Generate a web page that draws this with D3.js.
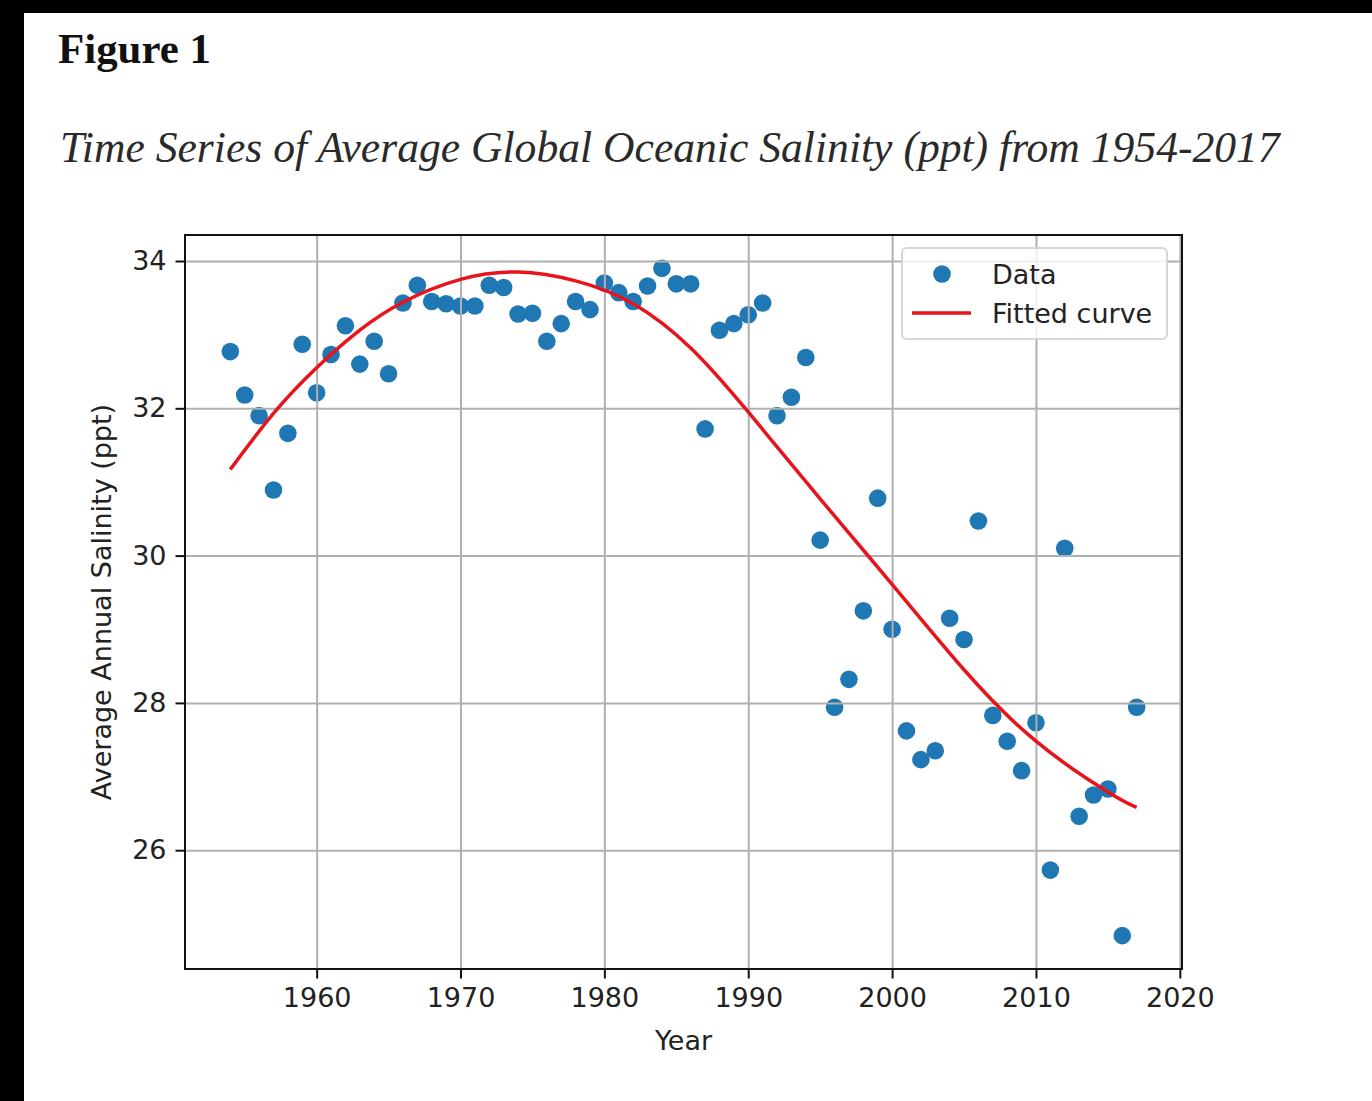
<html>
    <head>
        <title>Figure 1</title>
        <script src="https://cdnjs.cloudflare.com/ajax/libs/d3/7.8.5/d3.min.js"></script>
        <style>
            body { margin: 0; background: #000; }
        </style>
    </head>

    <body>
        <svg id="chart" width="1372" height="1101"></svg>

        <script>
            // yearly averages
            var years = [1954, 1955, 1956, 1957, 1958, 1959, 1960, 1961, 1962, 1963,
                         1964, 1965, 1966, 1967, 1968, 1969, 1970, 1971, 1972, 1973,
                         1974, 1975, 1976, 1977, 1978, 1979, 1980, 1981, 1982, 1983,
                         1984, 1985, 1986, 1987, 1988, 1989, 1990, 1991, 1992, 1993,
                         1994, 1995, 1996, 1997, 1998, 1999, 2000, 2001, 2002, 2003,
                         2004, 2005, 2006, 2007, 2008, 2009, 2010, 2011, 2012, 2013,
                         2014, 2015, 2016, 2017];

            var salinity = [32.77, 32.18, 31.90, 30.89, 31.66, 32.87, 32.21, 32.73, 33.12, 32.60,
                            32.91, 32.47, 33.43, 33.67, 33.45, 33.42, 33.39, 33.39, 33.67, 33.64,
                            33.28, 33.29, 32.91, 33.15, 33.45, 33.34, 33.70, 33.57, 33.45, 33.66,
                            33.90, 33.69, 33.69, 31.72, 33.06, 33.15, 33.27, 33.43, 31.90, 32.15,
                            32.69, 30.21, 27.94, 28.32, 29.25, 30.78, 29.00, 27.62, 27.23, 27.35,
                            29.15, 28.86, 30.47, 27.83, 27.48, 27.08, 27.73, 25.73, 30.10, 26.46,
                            26.75, 26.83, 24.84, 27.94];

            // fitted curve, sampled from the figure
            var fitYears = [1954, 1957, 1960, 1963, 1966, 1970, 1974, 1978, 1982,
                            1986, 1990, 1995, 2000, 2005, 2010, 2015, 2017];
            var fitValues = [31.17, 31.93, 32.55, 33.06, 33.44, 33.75, 33.85, 33.73, 33.42,
                             32.82, 31.95, 30.77, 29.61, 28.45, 27.48, 26.79, 26.58];

            var xTicks = [1960, 1970, 1980, 1990, 2000, 2010, 2020];
            var yTicks = [26, 28, 30, 32, 34];

            var legendLabels = ["Data", "Fitted curve"];

            var blue = "#1f77b4";
            var red = "#e8141c";
            var tickFont = "DejaVu Sans, sans-serif";

            var svg = d3.select("#chart");

            // white page, screenshot has black strip on top and left
            svg.append("rect")
               .attr("x", 24).attr("y", 13)
               .attr("width", 1348).attr("height", 1088)
               .attr("fill", "#fff");

            function fitText(sel, target) {
                var size = parseFloat(sel.attr("font-size"));
                var w = sel.node().getComputedTextLength();
                sel.attr("font-size", size * target / w);
            }

            var fig = svg.append("text")
               .attr("x", 58).attr("y", 63)
               .attr("font-family", "Liberation Serif, Times New Roman, serif")
               .attr("font-weight", "bold")
               .attr("font-size", 43)
               .attr("fill", "#111")
               .text("Figure 1");
            fitText(fig, 153);

            var sub = svg.append("text")
               .attr("x", 60).attr("y", 162)
               .attr("font-family", "Liberation Serif, Times New Roman, serif")
               .attr("font-style", "italic")
               .attr("font-size", 44)
               .attr("fill", "#2a2a2a")
               .text("Time Series of Average Global Oceanic Salinity (ppt) from 1954-2017");
            fitText(sub, 1220);

            var margin = {left: 185, top: 235};
            var width = 997, height = 734;

            var g = svg.append("g")
               .attr("transform", "translate(" + margin.left + "," + margin.top + ")");

            // matplotlib style 5% margins
            var xPad = 0.05 * (d3.max(years) - d3.min(years));
            var yPad = 0.05 * (d3.max(salinity) - d3.min(salinity));

            var xScale = d3.scaleLinear()
                           .domain([d3.min(years) - xPad, d3.max(years) + xPad])
                           .range([0, width]);
            var yScale = d3.scaleLinear()
                           .domain([d3.min(salinity) - yPad, d3.max(salinity) + yPad])
                           .range([height, 0]);

            var points = years.map((y, i) => ({year: y, value: salinity[i]}));
            var fit = fitYears.map((y, i) => ({year: y, value: fitValues[i]}));

            g.selectAll("circle.dot")
             .data(points)
             .enter()
             .append("circle")
             .attr("class", "dot")
             .attr("cx", d => xScale(d.year))
             .attr("cy", d => yScale(d.value))
             .attr("r", 8.8)
             .attr("fill", blue);

            // grid goes over the scatter, like matplotlib
            var xGrid = d3.axisBottom(xScale).tickValues(xTicks).tickSize(-height).tickFormat("");
            var yGrid = d3.axisLeft(yScale).tickValues(yTicks).tickSize(-width).tickFormat("");

            g.append("g").attr("transform", "translate(0," + height + ")").call(xGrid)
             .call(a => a.select(".domain").remove())
             .selectAll("line").attr("stroke", "#b0b0b0").attr("stroke-width", 2);
            g.append("g").call(yGrid)
             .call(a => a.select(".domain").remove())
             .selectAll("line").attr("stroke", "#b0b0b0").attr("stroke-width", 2);

            var line = d3.line()
                         .x(d => xScale(d.year))
                         .y(d => yScale(d.value))
                         .curve(d3.curveNatural);

            g.append("path")
             .datum(fit)
             .attr("d", line)
             .attr("fill", "none")
             .attr("stroke", red)
             .attr("stroke-width", 3.5);

            // axes
            var xAxis = d3.axisBottom(xScale)
                          .tickValues(xTicks)
                          .tickSize(9.5)
                          .tickPadding(9)
                          .tickFormat(d3.format("d"));
            var yAxis = d3.axisLeft(yScale)
                          .tickValues(yTicks)
                          .tickSize(9.5)
                          .tickPadding(9)
                          .tickFormat(d3.format("d"));

            var xa = g.append("g").attr("transform", "translate(0," + height + ")").call(xAxis);
            var ya = g.append("g").call(yAxis);

            [xa, ya].forEach(a => {
                a.select(".domain").remove();
                a.selectAll("line").attr("stroke", "#111").attr("stroke-width", 2);
                a.selectAll("text")
                 .attr("font-family", tickFont)
                 .attr("font-size", 27)
                 .attr("fill", "#222");
            });

            g.append("rect")
             .attr("width", width).attr("height", height)
             .attr("fill", "none")
             .attr("stroke", "#111")
             .attr("stroke-width", 2);

            svg.append("text")
               .attr("x", margin.left + width / 2).attr("y", 1050)
               .attr("text-anchor", "middle")
               .attr("font-family", tickFont)
               .attr("font-size", 27)
               .attr("fill", "#222")
               .text("Year");

            svg.append("text")
               .attr("transform", "translate(102," + (margin.top + height / 2) + ") rotate(-90)")
               .attr("text-anchor", "middle")
               .attr("dy", "0.35em")
               .attr("font-family", tickFont)
               .attr("font-size", 27)
               .attr("fill", "#222")
               .text("Average Annual Salinity (ppt)");

            // legend, upper right
            var leg = svg.append("g");
            leg.append("rect")
               .attr("x", 902).attr("y", 248)
               .attr("width", 265).attr("height", 91)
               .attr("rx", 5)
               .attr("fill", "#fff").attr("fill-opacity", 0.8)
               .attr("stroke", "#d6d6d6").attr("stroke-width", 2);

            leg.append("circle")
               .attr("cx", 942).attr("cy", 274)
               .attr("r", 8.8)
               .attr("fill", blue);

            leg.append("line")
               .attr("x1", 912).attr("x2", 971)
               .attr("y1", 313).attr("y2", 313)
               .attr("stroke", red)
               .attr("stroke-width", 3.5);

            leg.selectAll("text")
               .data(legendLabels)
               .enter()
               .append("text")
               .attr("x", 992)
               .attr("y", (d, i) => 274 + i * 39)
               .attr("dy", "0.36em")
               .attr("font-family", tickFont)
               .attr("font-size", 27)
               .attr("fill", "#222")
               .text(d => d);
        </script>
    </body>
</html>
